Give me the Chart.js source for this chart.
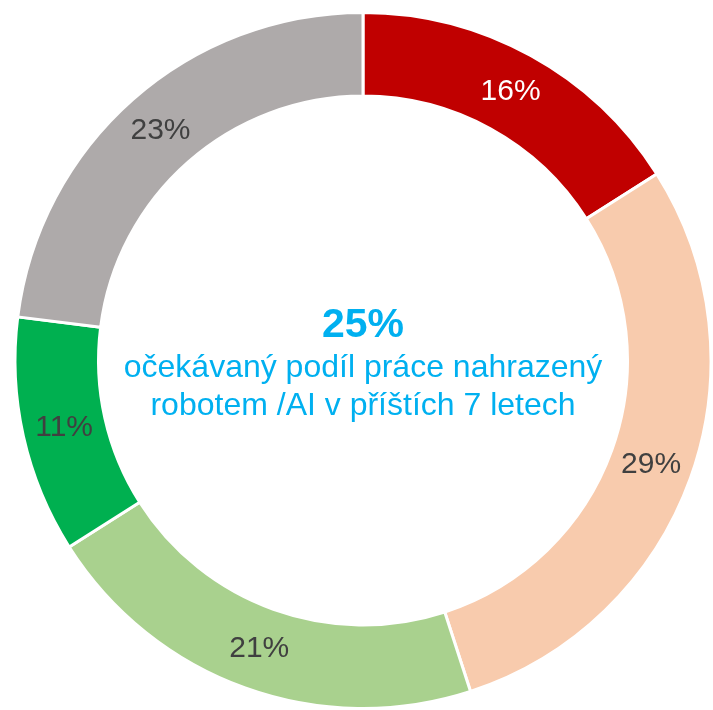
<!DOCTYPE html>
<html>
<head>
<meta charset="utf-8">
<script src="https://cdn.jsdelivr.net/npm/chart.js@4/dist/chart.umd.min.js"></script>
<style>
  html, body { margin: 0; padding: 0; background: #fff; }
  #wrap { width: 713px; height: 710px; position: relative; }
</style>
</head>
<body>
<div id="wrap"><canvas id="donutChart"></canvas></div>
<script>
// segments, clockwise from the top
const categories = ["Segment 1", "Segment 2", "Segment 3", "Segment 4", "Segment 5"];
const shares = [16, 29, 21, 11, 23];
const sliceColors = ["#C00000", "#F8CBAD", "#A9D18E", "#00B050", "#AEAAAA"];
const labelColors = ["#FFFFFF", "#404040", "#404040", "#404040", "#404040"];

const centerValue = "25%";
const centerLines = ["očekávaný podíl práce nahrazený", "robotem /AI v příštích 7 letech"];

const fontFamily = "'Liberation Sans', Arial, sans-serif";

// percentage labels in the middle of each ring slice
const sliceLabels = {
  id: "sliceLabels",
  afterDatasetsDraw(chart) {
    const ctx = chart.ctx;
    const meta = chart.getDatasetMeta(0);
    ctx.save();
    ctx.font = "30px " + fontFamily;
    ctx.textAlign = "center";
    ctx.textBaseline = "middle";
    meta.data.forEach((arc, i) => {
      const pos = arc.tooltipPosition();
      ctx.fillStyle = labelColors[i];
      ctx.fillText(shares[i] + "%", pos.x, pos.y);
    });
    ctx.restore();
  },
};

// text in the hole
const centerText = {
  id: "centerText",
  afterDraw(chart) {
    const ctx = chart.ctx;
    const arc = chart.getDatasetMeta(0).data[0];
    const cx = arc.x;
    const cy = arc.y;
    ctx.save();
    ctx.textAlign = "center";
    ctx.textBaseline = "alphabetic";
    ctx.fillStyle = "#00B0F0";
    ctx.font = "bold 41px " + fontFamily;
    ctx.fillText(centerValue, cx, cy - 24);
    ctx.font = "32px " + fontFamily;
    ctx.fillText(centerLines[0], cx, cy + 16);
    ctx.fillText(centerLines[1], cx, cy + 54);
    ctx.restore();
  },
};

const donutChart = new Chart("donutChart", {
  type: "doughnut",
  data: {
    labels: categories,
    datasets: [
      {
        data: shares,
        backgroundColor: sliceColors,
        borderColor: "#FFFFFF",
        borderWidth: 3,
      },
    ],
  },
  options: {
    responsive: true,
    maintainAspectRatio: false,
    animation: false,
    cutout: "76%",
    layout: {
      padding: { top: 11, bottom: 0, left: 13, right: 0 },
    },
    plugins: {
      legend: { display: false },
      tooltip: { enabled: false },
    },
  },
  plugins: [sliceLabels, centerText],
});
</script>
</body>
</html>
